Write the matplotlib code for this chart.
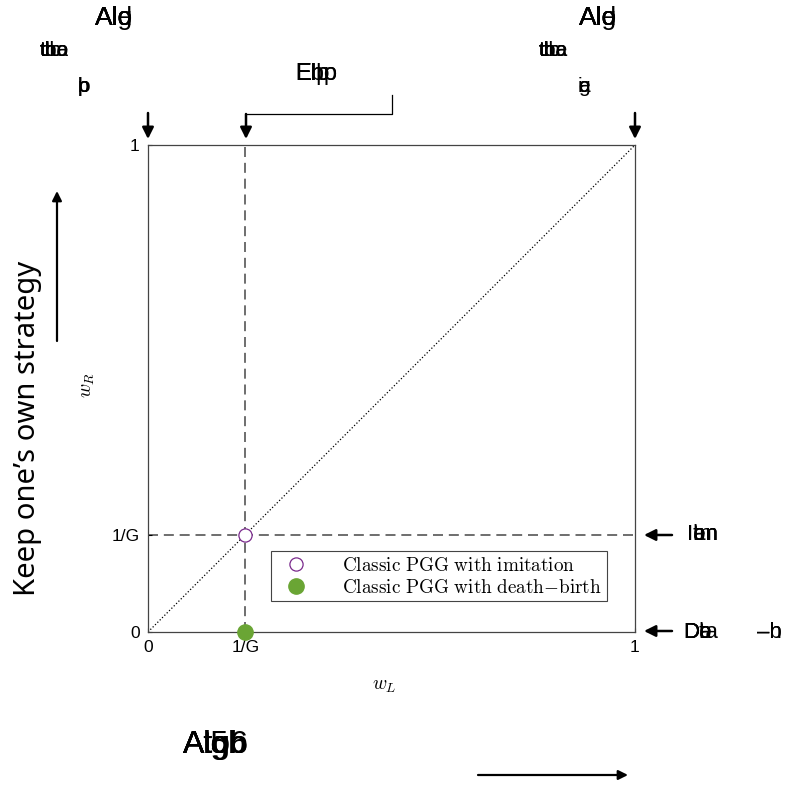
import matplotlib
matplotlib.use('Agg')
import matplotlib.pyplot as plt
from matplotlib.lines import Line2D
from matplotlib.patches import FancyArrowPatch

plt.rcParams['mathtext.fontset'] = 'cm'

W, H = 787, 789
G = 5

# tick positions / labels
x_ticks = [0, 1 / G, 1]
x_ticklabels = ['0', '1/G', '1']
y_ticks = [0, 1 / G, 1]
y_ticklabels = ['0', '1/G', '1']

# the two points
imit_x, imit_y = [1 / G], [1 / G]
db_x, db_y = [1 / G], [0]

# diagonal
diag_x = [0, 1]
diag_y = [0, 1]

# overlapping (garbled) annotation texts: (x px, y px, strings, size)
garbled = [
    (95, 18, ['Ald', 'Alg', 'Ale', 'Alo'], 19),
    (40, 51, ['the', 'tho', 'tlb', 'tba', 'ttc'], 15),
    (78, 87, ['p', 'b', 'o', 'þ'], 15),
    (579, 18, ['Ald', 'Alg', 'Ale', 'Alo'], 19),
    (539, 51, ['the', 'tha', 'tlb', 'tba', 'ttc'], 15),
    (578, 87, ['g', 'i', 'e', 'a'], 15),
    (295, 74, ['Elp', 'Ebo', 'Elb', 'Ehp'], 17),
    (687, 535, ['Ibn', 'Ien', 'Itn', 'Ian'], 16),
    (683, 632, ['Da', 'Db', 'De', 'Dta'], 16),
    (757, 632, ['–b', '–h'], 16),
    (183, 745, ['Atgb', 'Alob', 'Ato6', 'Al5', 'Algb'], 23),
]

GREEN = '#6aa534'
PURPLE = '#7a2a8c'


def px(x, y):
    return (x / W, 1 - y / H)


fig = plt.figure(figsize=(W / 100, H / 100), dpi=100)
ax = fig.add_axes([148 / W, 1 - 632 / H, 487 / W, 487 / H])

ax.set_xlim(0, 1)
ax.set_ylim(0, 1)

ax.axvline(1 / G, color='#555555', linestyle=(0, (6, 3.5)), linewidth=1.2, zorder=1)
ax.axhline(1 / G, color='#555555', linestyle=(0, (6, 3.5)), linewidth=1.2, zorder=1)
ax.plot(diag_x, diag_y, color='black', linestyle=':', linewidth=0.9, zorder=1)

ax.plot(imit_x, imit_y, 'o', markersize=9.5, markerfacecolor='white',
        markeredgecolor=PURPLE, markeredgewidth=0.9, linestyle='none',
        label=r'$\mathrm{Classic\ PGG\ with\ imitation}$', zorder=3)
ax.plot(db_x, db_y, 'o', markersize=11, color=GREEN, linestyle='none',
        label=r'$\mathrm{Classic\ PGG\ with\ death{-}birth}$', zorder=3, clip_on=False)

leg = ax.legend(loc='lower right', bbox_to_anchor=(0.962, 0.043), fontsize=13.8,
                fancybox=False, edgecolor='#444444', framealpha=1,
                handlelength=2.2, handletextpad=1.3, borderpad=0.25,
                labelspacing=0.15)
leg.get_frame().set_linewidth(0.8)

ax.set_xticks(x_ticks)
ax.set_xticklabels(x_ticklabels, fontfamily='Liberation Sans', fontsize=12.5)
ax.set_yticks(y_ticks)
ax.set_yticklabels(y_ticklabels, fontfamily='Liberation Sans', fontsize=12.5)
ax.tick_params(direction='in', length=3, width=0.8, color='black', pad=6)
for s in ax.spines.values():
    s.set_color('#444444')
    s.set_linewidth(0.9)

ax.set_xlabel(r'$w_L$', fontsize=14)
ax.set_ylabel(r'$w_R$', fontsize=14)
ax.xaxis.set_label_coords((384 - 148) / 487, (632 - 676) / 487)
ax.yaxis.set_label_coords((97 - 148) / 487, (632 - 385) / 487)

fig.text(*px(28, 428), 'Keep one\u2019s own strategy', rotation=90,
         fontsize=21, fontfamily='Noto Sans', ha='center', va='center')

for x, y, strs, size in garbled:
    for s in strs:
        fig.text(*px(x, y), s, fontsize=size, fontfamily='Liberation Sans',
                 ha='left', va='center')


def arrow(p0, p1, lw=1.8, ms=17):
    a = FancyArrowPatch(px(*p0), px(*p1), transform=fig.transFigure,
                        arrowstyle='-|>', mutation_scale=ms, color='black',
                        linewidth=lw, shrinkA=0, shrinkB=0)
    fig.add_artist(a)


# top arrows
arrow((148, 113), (148, 139))
arrow((635, 113), (635, 139))
arrow((246, 114), (246, 139))
fig.add_artist(Line2D([246 / W, 392 / W, 392 / W],
                      [1 - 114 / H, 1 - 114 / H, 1 - 95 / H],
                      transform=fig.transFigure, color='black', linewidth=0.9))
# right arrows
arrow((672, 535), (644, 535))
arrow((672, 631), (644, 631))
# long arrows
arrow((57, 341), (57, 191), lw=1.6, ms=14)
arrow((478, 775), (628, 775), lw=1.6, ms=14)

fig.savefig('out.png', dpi=100)
